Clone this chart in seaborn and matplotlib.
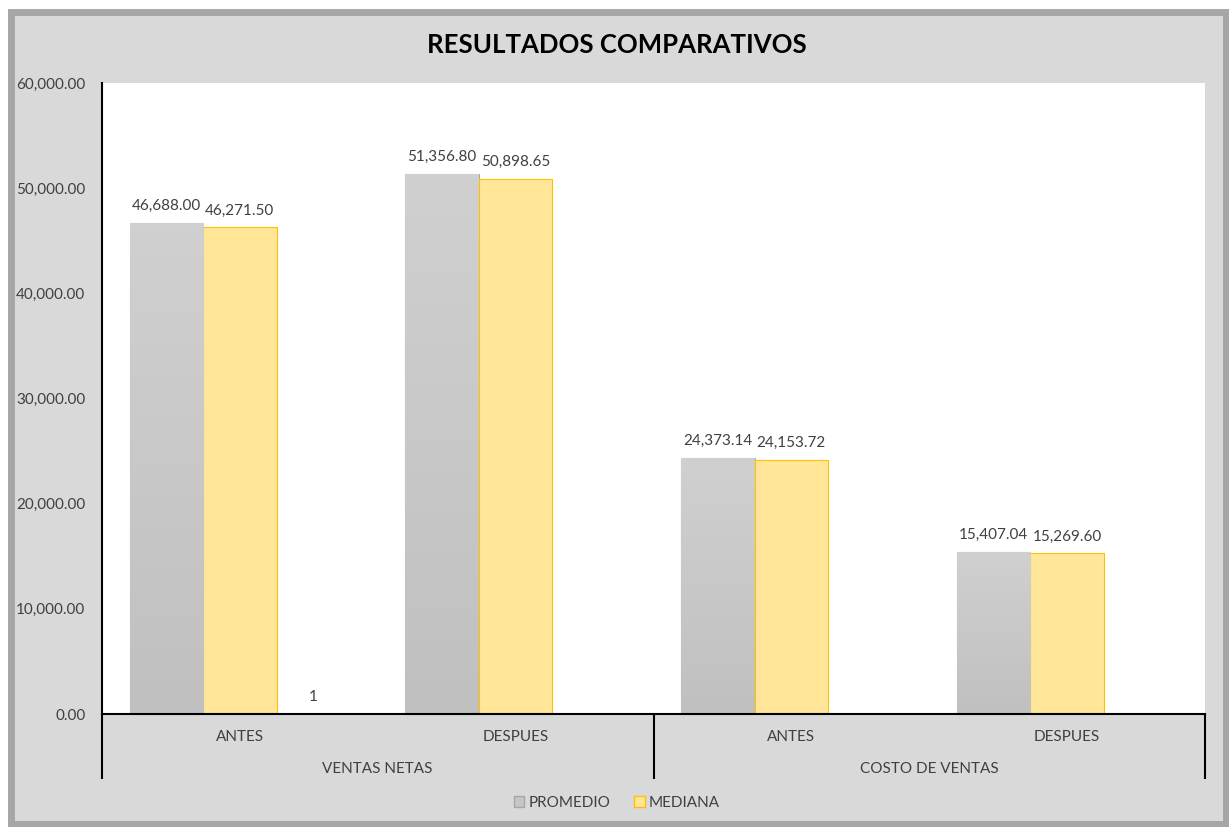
import numpy as np
import pandas as pd
import matplotlib
matplotlib.use("Agg")
import matplotlib.pyplot as plt
import matplotlib.transforms as mtransforms
from matplotlib.colors import LinearSegmentedColormap
from matplotlib.patches import Patch, Rectangle
import seaborn as sns

# data
groups = ["VENTAS NETAS", "VENTAS NETAS", "COSTO DE VENTAS", "COSTO DE VENTAS"]
periods = ["ANTES", "DESPUES", "ANTES", "DESPUES"]
promedio = [46688.00, 51356.80, 24373.14, 15407.04]
mediana = [46271.50, 50898.65, 24153.72, 15269.60]
serie3 = [1, np.nan, np.nan, np.nan]   # stray third series, only shows its label "1"
series_names = ["PROMEDIO", "MEDIANA", "SERIE3"]
yticks = [0, 10000, 20000, 30000, 40000, 50000, 60000]

keys = [f"{g}|{p}" for g, p in zip(groups, periods)]
df = pd.DataFrame({
    "cat": keys * 3,
    "serie": np.repeat(series_names, len(keys)),
    "valor": promedio + mediana + serie3,
})

sns.set_theme(style="white")
plt.rcParams["font.family"] = ["Lato", "DejaVu Sans"]

W, H = 1229, 827
fig = plt.figure(figsize=(W / 100, H / 100), dpi=100, facecolor="white")

# chart area background with the thick grey border
fig.patches.append(Rectangle((10.5 / W, 1 - 824 / H), 1215 / W, 812.5 / H,
                             transform=fig.transFigure, facecolor="#D9D9D9",
                             edgecolor="#A6A6A6", linewidth=5.0, zorder=-10))

ax = fig.add_axes([102 / W, 1 - 714 / H, 1103 / W, 631 / H])
ax.set_facecolor("white")

palette = {"PROMEDIO": "#C6C6C6", "MEDIANA": "#FFE699", "SERIE3": "#FFFFFF"}
sns.barplot(data=df, x="cat", y="valor", hue="serie", hue_order=series_names,
            order=keys, palette=palette, width=0.8, saturation=1,
            ax=ax, legend=False, errorbar=None)

edge = {"PROMEDIO": "#A6A6A6", "MEDIANA": "#FFC000", "SERIE3": "none"}
gray_cmap = LinearSegmentedColormap.from_list("g", ["#C0C0C0", "#D0D0D0"])
for cont, name, vals in zip(ax.containers, series_names, [promedio, mediana, serie3]):
    for bar in cont:
        if bar is None:
            continue
        bar.set_edgecolor(edge[name])
        bar.set_linewidth(0.8)
        x0, y0 = bar.get_x(), bar.get_y()
        w, h = bar.get_width(), bar.get_height()
        if name == "SERIE3":
            bar.set_facecolor("none")
        if name == "PROMEDIO":
            # soft vertical gradient like the excel fill
            grad = np.linspace(0, 1, 100).reshape(-1, 1)
            im = ax.imshow(grad, cmap=gray_cmap, aspect="auto",
                           extent=[x0, x0 + w, y0, y0 + h], origin="lower",
                           zorder=bar.get_zorder())
            im.set_clip_path(bar)
        idx = int(round(x0 + w / 2))
        v = vals[idx]
        if np.isnan(v):
            continue
        txt = f"{v:g}" if name == "SERIE3" else f"{v:,.2f}"
        ax.annotate(txt, (x0 + w / 2, y0 + h), xytext=(0, 7), textcoords="offset points",
                    ha="center", va="bottom", fontsize=11, color="#404040")

ax.set_xlim(-0.5, len(keys) - 0.5)
ax.set_ylim(0, 60000)
ax.set_yticks(yticks)
ax.set_yticklabels([f"{t:,.2f}" for t in yticks], fontsize=11, color="#404040")
ax.tick_params(axis="y", length=0, pad=12)
ax.set_xticks([])
ax.set_xlabel("")
ax.set_ylabel("")
for s in ["top", "right"]:
    ax.spines[s].set_visible(False)
for s in ["left", "bottom"]:
    ax.spines[s].set_color("black")
    ax.spines[s].set_linewidth(1.5)

# two-level category axis
trans = mtransforms.blended_transform_factory(ax.transData, ax.transAxes)
low = -65 / 631
for xb in [-0.5, 1.5, 3.5]:
    ax.plot([xb, xb], [0, low], transform=trans, color="black", lw=1.5,
            clip_on=False, solid_capstyle="butt")
for i, p in enumerate(periods):
    ax.text(i, -23 / 631, p, transform=trans, ha="center", va="center",
            fontsize=11, color="#404040")
for gi, g in enumerate(["VENTAS NETAS", "COSTO DE VENTAS"]):
    ax.text(gi * 2 + 0.5, -55 / 631, g, transform=trans, ha="center", va="center",
            fontsize=11, color="#404040")

fig.text(617 / W, 1 - 45 / H, "RESULTADOS COMPARATIVOS", ha="center", va="center",
         fontsize=18.5, fontweight="bold", color="black")

handles = [Patch(facecolor="#C6C6C6", edgecolor="#A6A6A6", label="PROMEDIO"),
           Patch(facecolor="#FFE699", edgecolor="#FFC000", label="MEDIANA")]
fig.legend(handles=handles, loc="center", bbox_to_anchor=(617 / W, 1 - 803 / H),
           ncol=2, frameon=False, fontsize=11, handlelength=0.7, handleheight=0.7,
           handletextpad=0.3, columnspacing=1.5, labelcolor="#404040")

fig.savefig("out.png", dpi=100, facecolor=fig.get_facecolor())
